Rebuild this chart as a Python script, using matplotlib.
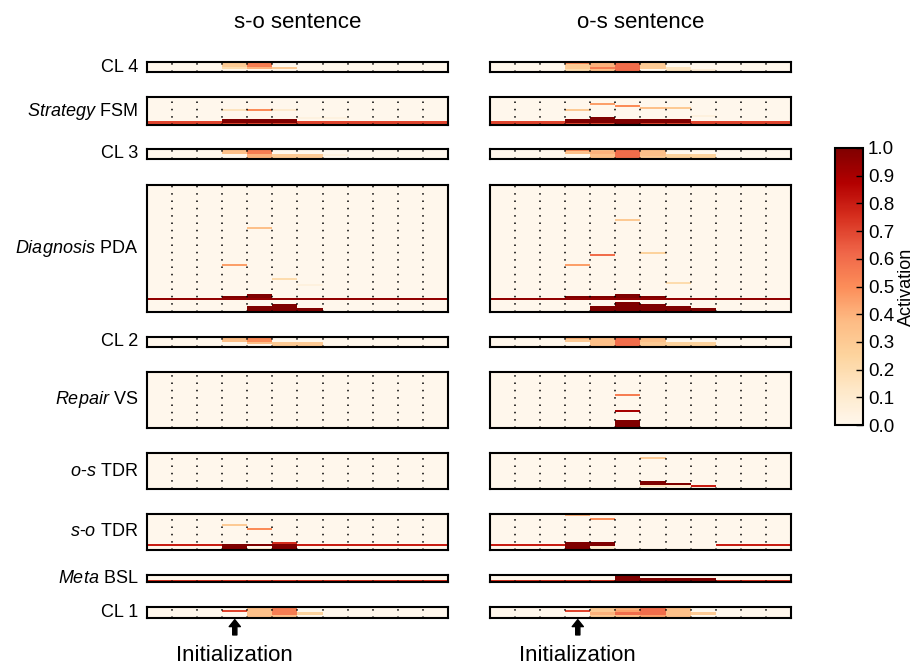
import numpy as np
import matplotlib
matplotlib.use('Agg')
import matplotlib.pyplot as plt

plt.rcParams['font.family'] = ['Liberation Sans', 'DejaVu Sans']
plt.rcParams['mathtext.fontset'] = 'custom'
plt.rcParams['mathtext.rm'] = 'Liberation Sans'
plt.rcParams['mathtext.it'] = 'Liberation Sans:italic'

n_steps = 12
init_step = 3
titles = ['s-o sentence', 'o-s sentence']
row_labels = ['CL 4', r'$\it{Strategy}$ FSM', 'CL 3', r'$\it{Diagnosis}$ PDA', 'CL 2',
              r'$\it{Repair}$ VS', r'$\it{o}$-$\it{s}$ TDR', r'$\it{s}$-$\it{o}$ TDR',
              r'$\it{Meta}$ BSL', 'CL 1']
n_rows = [4, 14, 4, 64, 4, 28, 18, 18, 4, 4]

# activation cells: (first step, last step + 1, first unit, last unit + 1, activation)
cl4_so = [(3, 4, 0, 2, 0.3), (3, 4, 2, 3, 0.2), (4, 5, 0, 2, 0.55), (4, 5, 2, 3, 0.4), (5, 6, 2, 3, 0.3)]
cl4_os = [(3, 4, 0, 1, 0.5), (3, 4, 1, 3, 0.3), (3, 4, 3, 4, 0.2), (4, 5, 0, 2, 0.4), (4, 5, 2, 3, 0.55),
          (4, 5, 3, 4, 0.35), (5, 6, 0, 4, 0.6), (6, 7, 0, 3, 0.3), (7, 8, 2, 4, 0.15), (8, 9, 3, 4, 0.08)]

fsm_so = [(3, 4, 6, 7, 0.15), (4, 5, 6, 7, 0.5), (5, 6, 6, 7, 0.1), (6, 8, 10, 11, 0.04),
          (0, 12, 12, 14, 0.7), (3, 6, 11, 13, 1.0)]
fsm_os = [(3, 4, 6, 7, 0.3), (4, 5, 3, 4, 0.45), (5, 6, 4, 5, 0.5), (6, 7, 5, 6, 0.35), (7, 8, 5, 6, 0.3),
          (8, 9, 9, 10, 0.05), (0, 12, 12, 14, 0.7), (3, 4, 11, 13, 1.0), (4, 5, 10, 13, 1.0),
          (5, 6, 11, 14, 1.0), (6, 8, 11, 13, 1.0)]

cl3_so = [(3, 4, 0, 2, 0.35), (4, 5, 0, 2, 0.55), (4, 5, 2, 4, 0.4), (5, 7, 2, 4, 0.3), (7, 8, 2, 3, 0.05)]
cl3_os = [(3, 4, 0, 1, 0.5), (3, 4, 1, 2, 0.35), (4, 5, 0, 4, 0.35), (4, 5, 1, 2, 0.4), (5, 6, 0, 4, 0.6),
          (6, 7, 0, 3, 0.35), (6, 7, 3, 4, 0.3), (7, 9, 2, 4, 0.25)]

pda_so = [(4, 5, 21, 22, 0.35), (3, 4, 40, 41, 0.45), (5, 6, 47, 48, 0.2), (6, 7, 50, 51, 0.05),
          (0, 12, 57, 58, 0.95), (3, 4, 56, 57, 1.0), (4, 5, 55, 57, 1.0),
          (4, 5, 61, 64, 1.0), (5, 6, 60, 64, 1.0), (6, 7, 62, 64, 1.0)]
pda_os = [(5, 6, 17, 18, 0.3), (4, 5, 35, 36, 0.6), (3, 4, 40, 41, 0.45), (6, 7, 34, 35, 0.25),
          (7, 8, 49, 50, 0.2), (0, 12, 57, 58, 0.95), (3, 5, 56, 57, 1.0), (5, 6, 55, 57, 1.0),
          (6, 7, 56, 57, 1.0), (4, 5, 61, 64, 1.0), (5, 6, 59, 64, 1.0), (6, 7, 60, 64, 1.0),
          (7, 8, 61, 64, 1.0), (8, 9, 62, 64, 1.0)]

cl2_so = [(3, 4, 0, 2, 0.35), (4, 5, 0, 2, 0.5), (4, 5, 2, 3, 0.35), (5, 7, 2, 4, 0.3)]
cl2_os = [(3, 4, 0, 1, 0.4), (3, 4, 1, 2, 0.3), (4, 5, 0, 4, 0.35), (5, 6, 0, 4, 0.6), (6, 7, 0, 2, 0.35),
          (6, 7, 2, 4, 0.3), (7, 9, 2, 4, 0.25)]

vs_so = []
vs_os = [(5, 6, 11, 12, 0.55), (5, 6, 19, 20, 0.9), (5, 6, 24, 28, 1.0)]

ostdr_so = []
ostdr_os = [(6, 7, 2, 3, 0.3), (6, 7, 14, 16, 1.0), (6, 7, 16, 17, 0.15), (7, 8, 15, 16, 1.0),
            (7, 8, 16, 17, 0.1), (8, 9, 16, 17, 0.8)]

sotdr_so = [(3, 4, 5, 6, 0.3), (4, 5, 7, 8, 0.5), (0, 12, 15, 16, 0.8), (3, 4, 15, 18, 1.0),
            (4, 5, 15, 16, 1.0), (4, 5, 17, 18, 0.1), (5, 6, 14, 15, 0.75), (5, 6, 15, 18, 1.0)]
sotdr_os = [(3, 4, 0, 1, 0.4), (4, 5, 2, 3, 0.5), (0, 3, 15, 16, 0.8), (9, 12, 15, 16, 0.8),
            (3, 4, 14, 18, 1.0), (4, 5, 14, 16, 1.0), (4, 5, 16, 18, 0.1)]

bsl_so = [(0, 12, 3, 4, 0.75)]
bsl_os = [(0, 12, 3, 4, 0.75), (5, 6, 0, 4, 1.0), (6, 9, 2, 4, 1.0)]

cl1_so = [(3, 4, 1, 2, 0.7), (4, 5, 0, 4, 0.35), (5, 6, 0, 3, 0.55), (5, 6, 3, 4, 0.35), (6, 7, 2, 3, 0.25)]
cl1_os = [(3, 4, 1, 2, 0.7), (4, 5, 0, 2, 0.3), (4, 5, 2, 3, 0.4), (4, 5, 3, 4, 0.3), (5, 6, 0, 1, 0.4),
          (5, 6, 1, 2, 0.45), (5, 6, 2, 3, 0.6), (5, 6, 3, 4, 0.35), (6, 7, 0, 3, 0.6), (6, 7, 3, 4, 0.45),
          (7, 8, 0, 4, 0.35), (8, 9, 2, 3, 0.3)]

so_cells = [cl4_so, fsm_so, cl3_so, pda_so, cl2_so, vs_so, ostdr_so, sotdr_so, bsl_so, cl1_so]
os_cells = [cl4_os, fsm_os, cl3_os, pda_os, cl2_os, vs_os, ostdr_os, sotdr_os, bsl_os, cl1_os]


def build(nrows, cells):
    m = np.zeros((nrows, n_steps))
    for c0, c1, r0, r1, v in cells:
        m[r0:r1, c0:c1] = v
    return m


# layout in pixels
W, H = 920, 669
col_left = [147, 490]
col_width = 301
panel_top = [62, 97, 149, 185, 337, 372, 453, 514, 575, 607]
panel_bottom = [72, 125, 159, 312, 347, 428, 489, 550, 582, 618]

fig = plt.figure(figsize=(W / 100, H / 100), dpi=100)

for j, cells_list in enumerate([so_cells, os_cells]):
    for i in range(len(row_labels)):
        ax = fig.add_axes([col_left[j] / W, 1 - panel_bottom[i] / H, col_width / W,
                           (panel_bottom[i] - panel_top[i]) / H])
        im = ax.imshow(build(n_rows[i], cells_list[i]), cmap='OrRd', vmin=0, vmax=1, aspect='auto',
                       interpolation='nearest', extent=(0, n_steps, n_rows[i], 0))
        for k in range(1, n_steps):
            ax.axvline(k, color='black', lw=1.1, ls=(0, (1, 3.8)))
        ax.set_xticks([])
        ax.set_yticks([])
        for s in ax.spines.values():
            s.set_linewidth(1.5)
        if j == 0:
            ax.text(-0.03, 0.5, row_labels[i], transform=ax.transAxes, ha='right', va='center', fontsize=13)
    # arrow and label under the bottom panel
    ax.annotate('', xy=(init_step + 0.5, -0.15), xycoords=('data', 'axes fraction'),
                xytext=(0, -11), textcoords='offset points',
                arrowprops=dict(facecolor='black', edgecolor='black', width=3, headwidth=8, headlength=5))
    ax.annotate('Initialization', xy=(init_step + 0.5, 0), xycoords=('data', 'axes fraction'),
                xytext=(0, -27), textcoords='offset points', ha='center', va='center', fontsize=16)
    fig.text((col_left[j] + col_width / 2) / W, 1 - 22 / H, titles[j], ha='center', va='center', fontsize=16)

cax = fig.add_axes([835 / W, 1 - 425 / H, 28 / W, 277 / H])
cb = fig.colorbar(im, cax=cax, ticks=np.linspace(0, 1, 11), format='%.1f')
cb.ax.tick_params(direction='in', length=5, width=1, labelsize=13.5)
cb.set_label('Activation', fontsize=13, labelpad=3)
cb.outline.set_linewidth(1.5)

fig.savefig('out.png', dpi=100)
